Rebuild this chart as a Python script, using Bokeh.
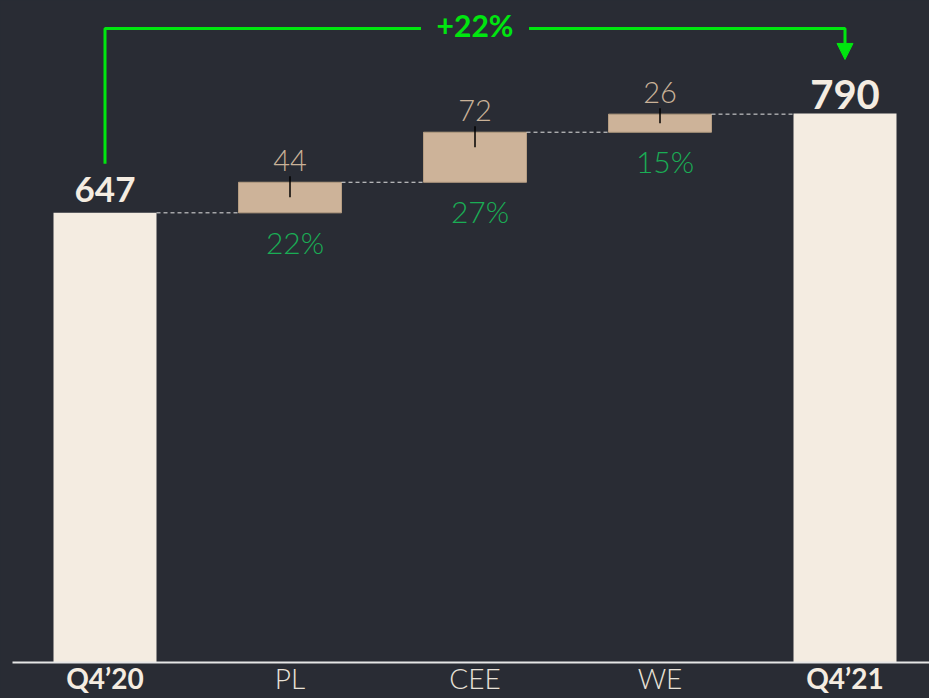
from bokeh.plotting import figure
from bokeh.models import Range1d
from bokeh.core.properties import value
from bokeh.embed import file_html
from bokeh.resources import INLINE

# ---- data ----
categories = ["Q4\u201920", "PL", "CEE", "WE", "Q4\u201921"]
start_value = 647
deltas = [44, 72, 26]
growth = ["22%", "27%", "15%"]
end_value = 790
total_growth = "+22%"

# ---- styling ----
BG = "#292c34"
CREAM = "#f4ece1"
TAN = "#cdb399"
TAN_EDGE = "#b59d82"
TAN_TEXT = "#c9b298"
PCT_GREEN = "#1aad55"
BRACKET = "#00e60f"
LIGHT = "Lato Light, Lato"
BOLD = "Lato"

W, H = 929, 698
K = 0.695            # px per unit
BASE_PX = 662        # baseline pixel from top
SHIFT = 12           # text rendering correction (px)
def px(n):
    return n / K
def tpx(n):          # text offset above a data value, in px
    return (n + SHIFT) / K

BW = 103 / 185
x0 = 104.5 / 185
p = figure(width=W, height=H, output_backend="svg", toolbar_location=None,
           x_range=Range1d(-x0, (W - 104.5) / 185),
           y_range=Range1d(-(H - BASE_PX) / K, BASE_PX / K),
           min_border=0, background_fill_color=BG, border_fill_color=BG)
p.axis.visible = False
p.grid.visible = False
p.outline_line_color = None

xs = list(range(len(categories)))

bottoms, tops = [], []
level = start_value
for d in deltas:
    bottoms.append(level)
    level += d
    tops.append(level)

# total bars
p.vbar(x=[xs[0], xs[-1]], width=BW, bottom=0, top=[start_value, end_value],
       fill_color=CREAM, line_color=None)
# floating bars
fx = xs[1:-1]
p.vbar(x=fx, width=BW, bottom=bottoms, top=tops,
       fill_color=TAN, line_color=TAN_EDGE, line_width=1)

# connectors
levels = [start_value] + tops
p.segment(x0=[x + BW / 2 for x in xs[:-1]], y0=levels,
          x1=[x - BW / 2 for x in xs[1:]], y1=levels,
          line_color="#e2e2e2", line_width=1, line_dash="4 3")

# black marker lines
p.segment(x0=fx, y0=[t + px(6) for t in tops], x1=fx,
          y1=[t - min(px(15), d / 2) for t, d in zip(tops, deltas)],
          line_color="black", line_width=1.5)

# baseline
p.segment(x0=[-92.5 / 185], y0=[0], x1=[5], y1=[0], line_color="#e6e6e6", line_width=2)

# value labels
p.text(x=fx, y=[t + tpx(10) for t in tops], text=[str(d) for d in deltas],
       text_font=value(LIGHT), text_font_size="29px", text_color=TAN_TEXT,
       text_align="center", text_baseline="alphabetic")
p.text(x=[xs[0]], y=[start_value + tpx(11)], text=[str(start_value)],
       text_font=value(BOLD), text_font_style="bold", text_font_size="35px",
       text_color=CREAM, text_align="center", text_baseline="alphabetic")
p.text(x=[xs[-1]], y=[end_value + tpx(7)], text=[str(end_value)],
       text_font=value(BOLD), text_font_style="bold", text_font_size="40px",
       text_color=CREAM, text_align="center", text_baseline="alphabetic")

# growth labels
p.text(x=[x + 5 / 185 for x in fx], y=[b + tpx(-41) for b in bottoms], text=growth,
       text_font=value(LIGHT), text_font_size="30px", text_color=PCT_GREEN,
       text_align="center", text_baseline="alphabetic")

# category labels
cat_y = tpx(-27)
p.text(x=[xs[0], xs[-1]], y=[cat_y, cat_y], text=[categories[0], categories[-1]],
       text_font=value(BOLD), text_font_style="bold", text_font_size="28px",
       text_color=CREAM, text_align="center", text_baseline="alphabetic")
p.text(x=fx, y=[cat_y] * len(fx), text=categories[1:-1],
       text_font=value(LIGHT), text_font_size="28px", text_color="#e8e2d8",
       text_align="center", text_baseline="alphabetic")

# bracket
by = end_value + px(85)
gap = 54 / 185
mid = 2
p.line(x=[xs[0], xs[0], mid - gap], y=[start_value + px(49), by, by],
       line_color=BRACKET, line_width=3)
p.line(x=[mid + gap, xs[-1], xs[-1]], y=[by, by, end_value + px(69)],
       line_color=BRACKET, line_width=3)
tw = 8 / 185
p.patch(x=[xs[-1] - tw, xs[-1] + tw, xs[-1]],
        y=[end_value + px(70), end_value + px(70), end_value + px(54)],
        fill_color=BRACKET, line_color=BRACKET)
p.text(x=[mid], y=[by - px(9) + px(SHIFT)], text=[total_growth],
       text_font=value(BOLD), text_font_style="bold", text_font_size="30px",
       text_color=BRACKET, text_align="center", text_baseline="alphabetic")

html = file_html(p, INLINE)
html = html.replace("<head>", "<head><style>html,body{background:%s;}</style>" % BG, 1)
open("out.html", "w").write(html)
